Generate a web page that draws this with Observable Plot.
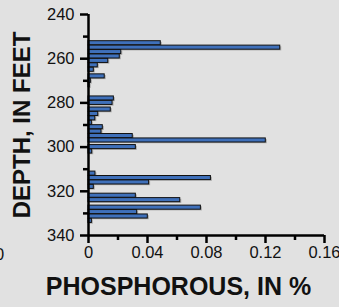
<!DOCTYPE html>
<html>
<head>
<meta charset="utf-8">
<script src="https://cdn.jsdelivr.net/npm/d3@7"></script>
<script src="https://cdn.jsdelivr.net/npm/@observablehq/plot@0.6"></script>
<style>
  html, body { margin: 0; padding: 0; background: #e1e1e1; overflow: hidden; }
  #chart svg { display: block; }
</style>
</head>
<body>
<div id="chart"></div>
<script>
const depths = [253,255,257,259,261,263,265,268,270,272,278,280,283,285,287,289,291,293,295,297,300,302,312,314,316,318,322,324,327.4,329.4,331.4,333.4];
const phosphorus = [0.049,0.130,0.0222,0.0212,0.0134,0.0063,0.0036,0.0110,0.0016,0.0008,0.0172,0.0163,0.0151,0.0066,0.0046,0.0023,0.0097,0.0088,0.0300,0.1202,0.0321,0.0025,0.0047,0.0830,0.0411,0.0036,0.0321,0.0622,0.0762,0.0330,0.0402,0.0023];
const depthTicks = [240,260,280,300,320,340];
const depthMinorTicks = [250,270,290,310,330];
const pTicks = [0,0.04,0.08,0.12,0.16];
const pMinorTicks = [0.02,0.06,0.10,0.14];
const xTitle = "PHOSPHOROUS, IN %";
const yTitle = "DEPTH, IN FEET";

const rows = depths.map((d, i) => ({depth: d, p: phosphorus[i]}));
const half = 0.92;
const font = "Liberation Sans, Arial, sans-serif";

const chart = Plot.plot({
  width: 339,
  height: 307,
  marginLeft: 88,
  marginRight: 15,
  marginTop: 14,
  marginBottom: 72,
  style: {background: "#e1e1e1", fontFamily: font, overflow: "visible"},
  x: {domain: [0, 0.16]},
  y: {domain: [240, 340], reverse: true},
  marks: [
    // shadows
    Plot.rect(rows, {x1: 0, x2: "p", y1: d => d.depth - half, y2: d => d.depth + half, fill: "#7a7a7a", fillOpacity: 0.55, dx: 1.5, dy: 1.2}),
    // bars
    Plot.rect(rows, {x1: 0, x2: "p", y1: d => d.depth - half, y2: d => d.depth + half, fill: "#3f70ba", stroke: "#111", strokeWidth: 1}),
    // axes lines
    Plot.ruleX([0], {stroke: "#000", strokeWidth: 2.5}),
    Plot.ruleY([340], {stroke: "#000", strokeWidth: 2.5}),
    Plot.axisY({ticks: depthTicks, tickSize: 8, tickPadding: 6, tickFormat: d => String(d), fontSize: 16.5, stroke: "#000", strokeWidth: 2.5, color: "#111", label: null}),
    Plot.axisY({ticks: depthMinorTicks, tickSize: 5, text: null, stroke: "#000", strokeWidth: 2.5, label: null}),
    Plot.axisX({ticks: pTicks, tickSize: 8, tickPadding: 3, tickFormat: d => d === 0 ? "0" : String(d), fontSize: 16.5, stroke: "#000", strokeWidth: 2.5, color: "#111", label: null}),
    Plot.axisX({ticks: pMinorTicks, tickSize: 5, text: null, stroke: "#000", strokeWidth: 2.5, label: null}),
    // titles
    Plot.text([xTitle], {frameAnchor: "bottom", dx: -28, dy: 59, lineAnchor: "bottom", fontSize: 25, fontWeight: "bold", fill: "#111"}),
    Plot.text([yTitle], {frameAnchor: "left", dx: -66, rotate: -90, textAnchor: "middle", lineAnchor: "middle", fontSize: 24, fontWeight: "bold", fill: "#111"}),
    // neighbouring panel fragment at left edge
    Plot.text(["0"], {frameAnchor: "bottom-left", dx: -89, dy: 19, lineAnchor: "middle", textAnchor: "middle", fontSize: 16.5, fill: "#111"})
  ]
});
document.getElementById("chart").appendChild(chart);
</script>
</body>
</html>
